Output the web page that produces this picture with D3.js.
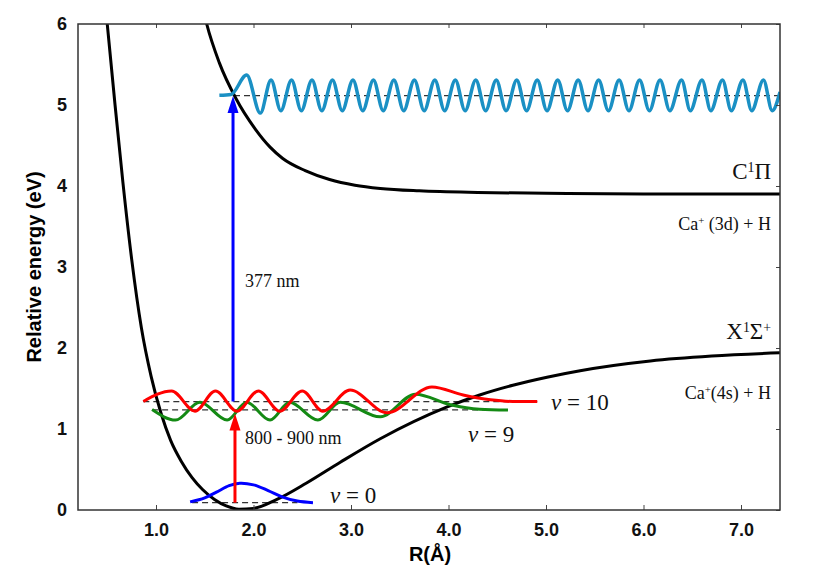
<!DOCTYPE html>
<html lang="en">
  <head>
    <meta charset="utf-8">
    <title>CaH potential curves</title>
    <script src="https://cdn.jsdelivr.net/npm/d3@7"></script>
    <style>
      body { margin: 0; background: #fff; }
      .tick text { font-family: "Liberation Sans", Arial, sans-serif; font-weight: bold; font-size: 18px; fill: #111; }
      .ann { font-family: "Liberation Serif", "Times New Roman", serif; fill: #111; }
    </style>
  </head>
  <body>
    <script>
      // tick values
      var xTicks = [1, 2, 3, 4, 5, 6, 7];
      var yTicks = [0, 1, 2, 3, 4, 5, 6];

      // X1Sigma+ ground state potential [R, E]
      var groundPot = [[0.47, 6.4], [0.50, 6.0], [0.58, 5.0], [0.66, 4.05], [0.75, 3.1], [0.85, 2.25], [0.95, 1.65],
        [1.05, 1.20], [1.15, 0.86], [1.26, 0.60], [1.37, 0.40], [1.48, 0.25], [1.60, 0.13], [1.72, 0.05],
        [1.85, 0.01], [2.00, 0.02], [2.24, 0.13], [2.54, 0.33], [2.89, 0.59], [3.30, 0.88], [3.98, 1.27],
        [4.32, 1.42], [4.66, 1.54], [5.01, 1.64], [5.35, 1.72], [6.07, 1.84], [6.70, 1.90], [7.40, 1.94]];

      // C1Pi excited state potential
      var excitedPot = [[1.48, 6.2], [1.52, 6.0], [1.65, 5.52], [1.82, 5.08], [2.02, 4.70], [2.17, 4.48], [2.30, 4.34],
        [2.53, 4.19], [2.78, 4.08], [3.04, 4.01], [3.30, 3.97], [3.70, 3.94], [4.30, 3.92], [5.00, 3.91],
        [6.00, 3.90], [7.40, 3.90]];

      // vibrational wavefunctions
      var v0Wave = [[1.35, 0.10], [1.50, 0.15], [1.62, 0.22], [1.75, 0.30], [1.86, 0.33], [2.00, 0.31],
        [2.15, 0.24], [2.30, 0.16], [2.45, 0.11], [2.61, 0.09]];
      var v9Wave = [[0.96, 1.24], [1.20, 1.11], [1.45, 1.33], [1.73, 1.11], [1.93, 1.33], [2.17, 1.11],
        [2.37, 1.33], [2.66, 1.11], [2.89, 1.33], [3.30, 1.15], [3.66, 1.43], [4.02, 1.30], [4.32, 1.245], [4.61, 1.235]];
      var v10Wave = [[0.87, 1.34], [1.16, 1.47], [1.40, 1.22], [1.61, 1.47], [1.83, 1.22], [2.05, 1.47],
        [2.27, 1.22], [2.50, 1.47], [2.71, 1.22], [2.99, 1.48], [3.37, 1.20], [3.83, 1.52], [4.15, 1.42],
        [4.43, 1.36], [4.66, 1.34], [4.91, 1.34]];
      // continuum wavefunction on C state
      var contWave = [[1.65, 5.12], [1.77, 5.13], [1.93, 5.37], [2.07, 4.90],
        [2.18, 5.31], [2.28, 4.93], [2.39, 5.31], [2.49, 4.93], [2.60, 5.31], [2.70, 4.93], [2.81, 5.31], [2.91, 4.93],
        [3.02, 5.31], [3.12, 4.93], [3.23, 5.31], [3.33, 4.93], [3.44, 5.31], [3.54, 4.93], [3.65, 5.31], [3.75, 4.93],
        [3.86, 5.31], [3.96, 4.93], [4.07, 5.31], [4.17, 4.93], [4.28, 5.31], [4.38, 4.93], [4.49, 5.31], [4.59, 4.93],
        [4.70, 5.31], [4.80, 4.93], [4.91, 5.31], [5.01, 4.93], [5.12, 5.31], [5.22, 4.93], [5.33, 5.31], [5.43, 4.93],
        [5.54, 5.31], [5.64, 4.93], [5.75, 5.31], [5.85, 4.93], [5.96, 5.31], [6.06, 4.93], [6.17, 5.31], [6.27, 4.93],
        [6.39, 5.31], [6.48, 4.93], [6.60, 5.31], [6.69, 4.93], [6.81, 5.31], [6.90, 4.93], [7.02, 5.31], [7.11, 4.93],
        [7.23, 5.31], [7.32, 4.93], [7.40, 5.16]];

      // energy levels: [R start, R end, E]
      var levels = [[1.37, 2.45, 0.09], [0.96, 4.61, 1.235], [0.87, 4.91, 1.337], [1.80, 7.40, 5.115]];

      // transitions: [R, E from, E to]
      var redArrow = [1.81, 0.09, 1.19];
      var blueArrow = [1.79, 1.34, 5.11];

      var w = 830, h = 573;
      var padL = 78, padR = 780, padT = 24, padB = 510;

      var svg = d3.select("body").append("svg")
                  .attr("width", w)
                  .attr("height", h);

      var xScale = d3.scaleLinear().domain([0.2, 7.4]).range([padL, padR]);
      var yScale = d3.scaleLinear().domain([0, 6]).range([padB, padT]);

      svg.append("clipPath")
         .attr("id", "plot")
         .append("rect")
         .attr("x", padL).attr("y", padT)
         .attr("width", padR - padL).attr("height", padB - padT);

      var line = d3.line()
                   .x(function(d) { return xScale(d[0]); })
                   .y(function(d) { return yScale(d[1]); })
                   .curve(d3.curveMonotoneX);

      var g = svg.append("g").attr("clip-path", "url(#plot)");

      // dashed levels
      g.selectAll(".level")
       .data(levels)
       .enter()
       .append("line")
       .attr("class", "level")
       .attr("x1", function(d) { return xScale(d[0]); })
       .attr("x2", function(d) { return xScale(d[1]); })
       .attr("y1", function(d) { return yScale(d[2]); })
       .attr("y2", function(d) { return yScale(d[2]); })
       .attr("stroke", "#333")
       .attr("stroke-width", 1.3)
       .attr("stroke-dasharray", "6,4");

      // potentials
      [groundPot, excitedPot].forEach(function(p) {
        g.append("path").datum(p)
         .attr("d", line)
         .attr("fill", "none")
         .attr("stroke", "#000")
         .attr("stroke-width", 3);
      });

      var waves = [[v9Wave, "#148a14"], [v10Wave, "#ff0000"], [v0Wave, "#0000ff"], [contWave, "#1a90c4"]];
      waves.forEach(function(p) {
        g.append("path").datum(p[0])
         .attr("d", p[0] === v0Wave ? line.curve(d3.curveCatmullRom) : line.curve(d3.curveMonotoneX))
         .attr("fill", "none")
         .attr("stroke", p[1])
         .attr("stroke-width", p[0] === contWave ? 3.5 : 3);
      });

      function arrow(a, col) {
        var x0 = xScale(a[0]), y0 = yScale(a[1]), y1 = yScale(a[2]);
        g.append("line")
         .attr("x1", x0).attr("x2", x0)
         .attr("y1", y0).attr("y2", y1 + 12)
         .attr("stroke", col).attr("stroke-width", 3);
        g.append("path")
         .attr("d", "M" + x0 + "," + y1 + "L" + (x0 - 5.5) + "," + (y1 + 17) + "L" + (x0 + 5.5) + "," + (y1 + 17) + "Z")
         .attr("fill", col);
      }
      arrow(redArrow, "#ff0000");
      arrow(blueArrow, "#0000ff");

      // axes
      var xAxis = d3.axisBottom(xScale).tickValues(xTicks).tickSizeInner(-5).tickSizeOuter(0)
                    .tickPadding(13).tickFormat(d3.format(".1f"));
      var yAxis = d3.axisLeft(yScale).tickValues(yTicks).tickSizeInner(0).tickSizeOuter(0)
                    .tickPadding(11).tickFormat(d3.format("d"));
      var topAxis = d3.axisTop(xScale).tickValues(xTicks).tickSizeInner(-4).tickSizeOuter(0).tickFormat("");
      var rightAxis = d3.axisRight(yScale).tickValues(yTicks).tickSizeInner(-4).tickSizeOuter(0).tickFormat("");

      svg.append("g").attr("transform", "translate(0," + padB + ")").call(xAxis);
      svg.append("g").attr("transform", "translate(" + padL + ",0)").call(yAxis);
      svg.append("g").attr("transform", "translate(0," + padT + ")").call(topAxis);
      svg.append("g").attr("transform", "translate(" + padR + ",0)").call(rightAxis);
      svg.selectAll(".domain").remove();
      svg.selectAll(".tick line").attr("stroke", "#444").attr("stroke-width", 1);

      svg.append("rect")
         .attr("x", padL).attr("y", padT)
         .attr("width", padR - padL).attr("height", padB - padT)
         .attr("fill", "none")
         .attr("stroke", "#333")
         .attr("stroke-width", 1.5);

      svg.append("text")
         .attr("transform", "translate(41," + ((padT + padB) / 2) + ") rotate(-90)")
         .attr("text-anchor", "middle")
         .style("font-family", "Liberation Sans, Arial, sans-serif")
         .style("font-weight", "bold")
         .style("font-size", "20px")
         .text("Relative energy (eV)");

      svg.append("text")
         .attr("x", (padL + padR) / 2 + 1)
         .attr("y", 561)
         .attr("text-anchor", "middle")
         .style("font-family", "Liberation Sans, Arial, sans-serif")
         .style("font-weight", "bold")
         .style("font-size", "20px")
         .text("R(Å)");

      // annotations
      function ann(x, y, size, anchor, parts) {
        var t = svg.append("text").attr("class", "ann")
                   .attr("x", x).attr("y", y)
                   .attr("text-anchor", anchor)
                   .style("font-size", size + "px");
        parts.forEach(function(p) {
          var s = t.append("tspan").text(p[0]);
          if (p[1] === "sup") s.attr("baseline-shift", "super").style("font-size", (size * 0.6) + "px");
          if (p[1] === "it") s.style("font-style", "italic");
        });
      }
      ann(771, 179, 23, "end", [["C"], ["1", "sup"], ["Π"]]);
      ann(771, 230, 18, "end", [["Ca"], ["+", "sup"], [" (3d) + H"]]);
      ann(771, 339, 23, "end", [["X"], ["1", "sup"], ["Σ"], ["+", "sup"]]);
      ann(771, 399, 18, "end", [["Ca"], ["+", "sup"], ["(4s) + H"]]);
      ann(245, 287, 18, "start", [["377 nm"]]);
      ann(245, 444, 18, "start", [["800 - 900 nm"]]);
      ann(551, 410, 23, "start", [["ν", "it"], [" = 10"]]);
      ann(468, 442, 23, "start", [["ν", "it"], [" = 9"]]);
      ann(330, 503, 23, "start", [["ν", "it"], [" = 0"]]);
    </script>
  </body>
</html>
